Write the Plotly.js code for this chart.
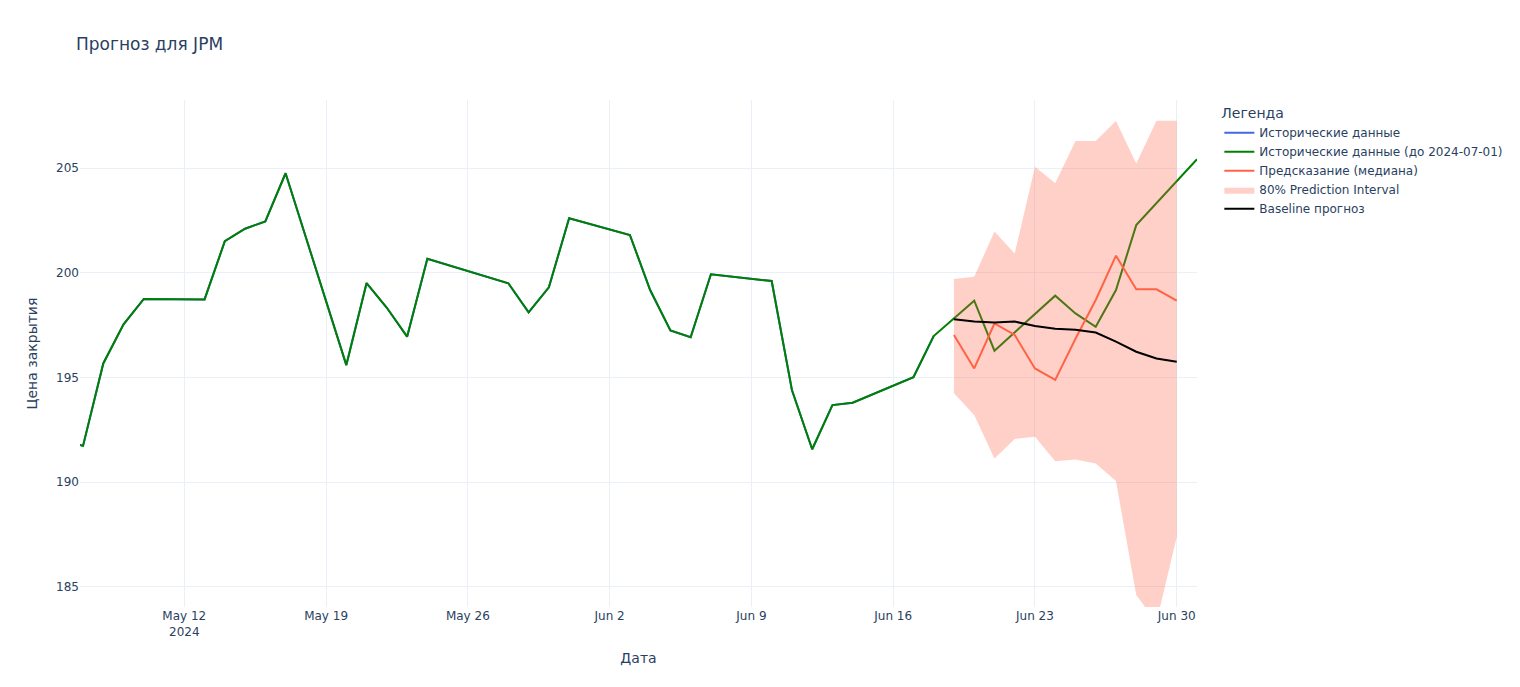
<!DOCTYPE html>
<html>
<head>
<meta charset="utf-8">
<script src="https://cdn.plot.ly/plotly-3.0.1.min.js"></script>
<style>html,body{margin:0;padding:0;background:#fff;}#chart{width:1520px;height:687px;}</style>
</head>
<body>
<div id="chart"></div>
<script>
// Historical closing prices (trading days)
const histDates = [
  "2024-05-06","2024-05-07","2024-05-08","2024-05-09","2024-05-10",
  "2024-05-13","2024-05-14","2024-05-15","2024-05-16","2024-05-17",
  "2024-05-20","2024-05-21","2024-05-22","2024-05-23","2024-05-24",
  "2024-05-28","2024-05-29","2024-05-30","2024-05-31",
  "2024-06-03","2024-06-04","2024-06-05","2024-06-06","2024-06-07",
  "2024-06-10","2024-06-11","2024-06-12","2024-06-13","2024-06-14",
  "2024-06-17","2024-06-18"
];
const histValues = [
  192.0, 191.73, 195.67, 197.54, 198.75,
  198.73, 201.51, 202.11, 202.46, 204.76,
  195.59, 199.51, 198.33, 196.95, 200.67,
  199.50, 198.11, 199.31, 202.61,
  201.81, 199.18, 197.25, 196.92, 199.93,
  199.61, 194.40, 191.57, 193.68, 193.79,
  195.01, 196.98
];
// Actual prices after the forecast start (up to 2024-07-01)
const actualDates = ["2024-06-20","2024-06-21","2024-06-24","2024-06-25","2024-06-26","2024-06-27","2024-06-28","2024-07-01"];
const actualValues = [198.67, 196.28, 198.91, 198.06, 197.42, 199.18, 202.28, 205.43];

// Forecast (daily)
const fcDates = ["2024-06-19","2024-06-20","2024-06-21","2024-06-22","2024-06-23","2024-06-24",
                 "2024-06-25","2024-06-26","2024-06-27","2024-06-28","2024-06-29","2024-06-30"];
const fcMedian = [197.03, 195.43, 197.58, 197.03, 195.43, 194.88, 196.85, 198.70, 200.82, 199.21, 199.21, 198.67];
const fcUpper  = [199.70, 199.81, 201.97, 200.93, 205.07, 204.28, 206.30, 206.30, 207.26, 205.23, 207.27, 207.27];
const fcLower  = [194.24, 193.20, 191.13, 192.06, 192.17, 191.00, 191.08, 190.89, 190.05, 184.60, 183.30, 187.39];
const baseline = [197.78, 197.67, 197.63, 197.67, 197.46, 197.33, 197.28, 197.15, 196.71, 196.23, 195.91, 195.75];

const fullDates = histDates.concat(actualDates);
const fullValues = histValues.concat(actualValues);

const traces = [
  {x: histDates, y: histValues, mode: "lines", name: "Исторические данные",
   line: {color: "royalblue", width: 2}},
  {x: fullDates, y: fullValues, mode: "lines", name: "Исторические данные (до 2024-07-01)",
   line: {color: "green", width: 2}},
  {x: fcDates, y: fcMedian, mode: "lines", name: "Предсказание (медиана)",
   line: {color: "tomato", width: 2}},
  {x: fcDates.concat(fcDates.slice().reverse()), y: fcUpper.concat(fcLower.slice().reverse()),
   fill: "toself", fillcolor: "rgba(255,99,71,0.3)", line: {color: "rgba(255,255,255,0)"},
   mode: "lines", name: "80% Prediction Interval", hoverinfo: "skip"},
  {x: fcDates, y: baseline, mode: "lines", name: "Baseline прогноз",
   line: {color: "black", width: 2}}
];

const grid = "#EBF0F8";
const layout = {
  width: 1520, height: 687,
  paper_bgcolor: "white", plot_bgcolor: "white",
  font: {family: '"DejaVu Sans", verdana, arial, sans-serif', size: 12, color: "#2a3f5f"},
  title: {text: "Прогноз для JPM", x: 0.05, font: {size: 17}},
  margin: {l: 80, r: 80, t: 100, b: 80},
  xaxis: {
    title: {text: "Дата", standoff: 15},
    automargin: true,
    range: ["2024-05-06 20:24", "2024-07-01"],
    gridcolor: grid, linecolor: grid, zerolinecolor: grid, ticks: "", showline: false
  },
  yaxis: {
    title: {text: "Цена закрытия", standoff: 15},
    automargin: true,
    range: [184.03, 208.26],
    gridcolor: grid, linecolor: grid, zerolinecolor: grid, ticks: "", showline: false
  },
  legend: {title: {text: "Легенда"}},
  hovermode: "x"
};

Plotly.newPlot("chart", traces, layout, {displayModeBar: false});
</script>
</body>
</html>
